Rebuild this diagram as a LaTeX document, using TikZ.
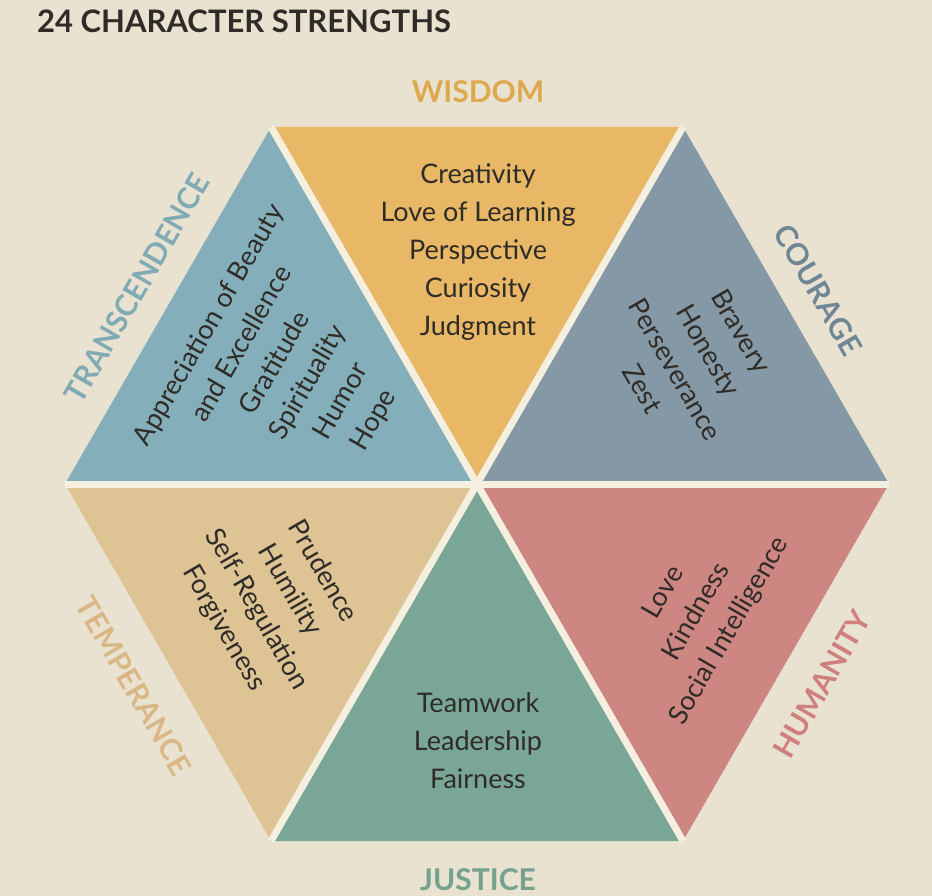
\documentclass[tikz,border=0pt]{standalone}
\usepackage{fontspec}
\setmainfont{Lato}
\definecolor{bgc}{HTML}{EAE2D1}
\definecolor{gapc}{HTML}{F4EFDF}
\definecolor{txt}{HTML}{2F2B27}
\definecolor{wisc}{HTML}{E8B866}
\definecolor{couc}{HTML}{8499A5}
\definecolor{humc}{HTML}{CE8682}
\definecolor{jusc}{HTML}{79A696}
\definecolor{temc}{HTML}{DEC495}
\definecolor{trac}{HTML}{84AFBA}
\definecolor{wisl}{HTML}{DDA94F}
\definecolor{coul}{HTML}{6F8694}
\definecolor{huml}{HTML}{CF807C}
\definecolor{jusl}{HTML}{76A08F}
\definecolor{teml}{HTML}{D9B885}
\definecolor{tral}{HTML}{80AAB4}
\tikzset{
  body/.style={text=txt, align=center, font=\fontsize{27}{38}\selectfont, inner sep=0pt},
  cat/.style={font=\bfseries\fontsize{30}{32}\selectfont, inner sep=0pt},
  gapline/.style={draw=gapc, line width=7pt},
}
\begin{document}
\begin{tikzpicture}[x=1pt,y=-1pt]
\fill[bgc] (0,0) rectangle (932,896);
\useasboundingbox (0,0) rectangle (932,896);
\coordinate (C) at (477,484);
\coordinate (L) at (65,484);
\coordinate (TL) at (271,127);
\coordinate (TR) at (683,127);
\coordinate (R) at (889,484);
\coordinate (BR) at (683,841);
\coordinate (BL) at (271,841);
\fill[wisc] (TL) -- (TR) -- (C) -- cycle;
\fill[couc] (TR) -- (R) -- (C) -- cycle;
\fill[humc] (R) -- (BR) -- (C) -- cycle;
\fill[jusc] (BR) -- (BL) -- (C) -- cycle;
\fill[temc] (BL) -- (L) -- (C) -- cycle;
\fill[trac] (L) -- (TL) -- (C) -- cycle;
\draw[gapline] (L) -- (R);
\draw[gapline] (TL) -- (BR);
\draw[gapline] (TR) -- (BL);
\node[anchor=base west, text=txt, font=\bfseries\fontsize{31}{33}\selectfont, inner sep=0pt] (title) at (37,33) {24 CHARACTER STRENGTHS};
\node[cat, text=wisl] (wisdom) at (478,92) {WISDOM};
\node[cat, text=jusl] (justice) at (478,880) {JUSTICE};
\node[cat, text=tral, rotate=60] (transcendence) at (137,288) {TRANSCENDENCE};
\node[cat, text=coul, rotate=-60] (courage) at (818,290) {COURAGE};
\node[cat, text=teml, rotate=-60] (temperance) at (134,686) {TEMPERANCE};
\node[cat, text=huml, rotate=60] (humanity) at (822,684) {HUMANITY};
\node[body] (wislist) at (478,252) {Creativity\\Love of Learning\\Perspective\\Curiosity\\Judgment};
\node[body] (juslist) at (478,741) {Teamwork\\Leadership\\Fairness};
\node[body, rotate=60] (tralist) at (292,373) {Appreciation of Beauty\\and Excellence\\Gratitude\\Spirituality\\Humor\\Hope};
\node[body, rotate=-60] (coulist) at (692,360) {Bravery\\Honesty\\Perseverance\\Zest};
\node[body, rotate=-60] (temlist) at (273,600) {Prudence\\Humility\\Self-Regulation\\Forgiveness};
\node[body, rotate=60] (humlist) at (697,612) {Love\\Kindness\\Social Intelligence};
\end{tikzpicture}
\end{document}
